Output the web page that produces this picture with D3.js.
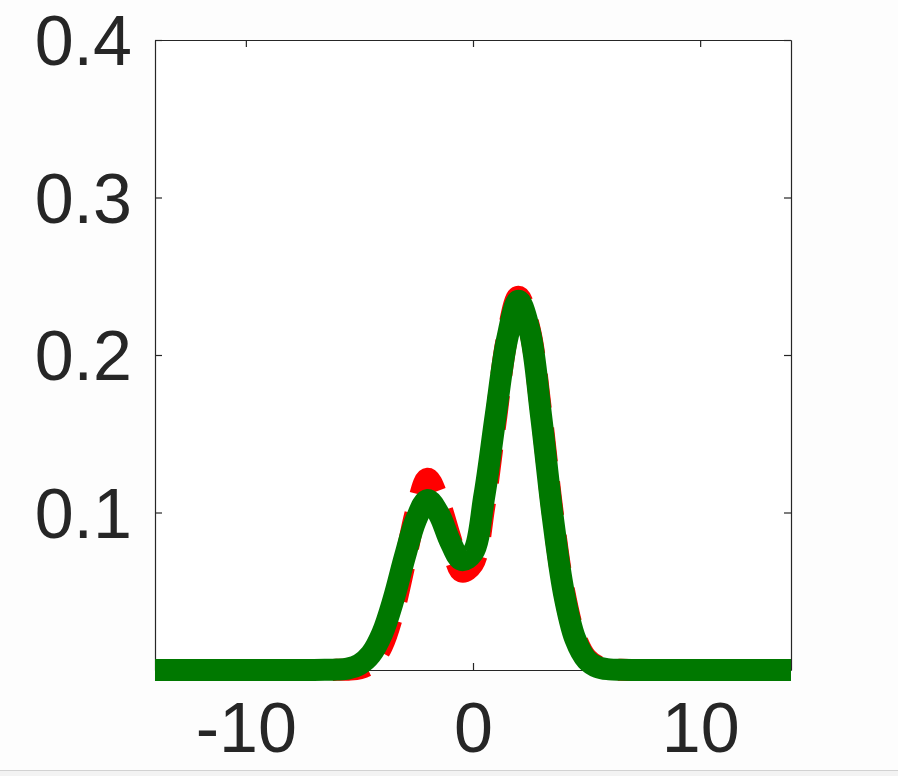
<!DOCTYPE html>
<html>
<head>
<meta charset="utf-8">
<script src="https://cdn.jsdelivr.net/npm/d3@7"></script>
<style>
  html, body { margin: 0; padding: 0; background: #fdfdfd; }
  svg { display: block; }
  text { font-family: "Liberation Sans", Arial, Helvetica, sans-serif; }
</style>
</head>
<body>
<script>
// ---- data ----
const xValues = [-14, -7, -6.5, -6, -5.5, -5, -4.5, -4, -3.5, -3, -2.5, -2, -1.5, -1, -0.5, 0,
                 0.5, 1, 1.5, 2, 2.5, 3, 3.5, 4, 4.5, 5, 5.5, 6, 6.5, 7, 14];
const redDashed = [0, 0, 0, 0.0001, 0.0002, 0.0010, 0.0045, 0.0155, 0.0370, 0.0680, 0.1010, 0.1215,
                   0.1070, 0.0840, 0.0625, 0.0675, 0.1040, 0.1580, 0.2110, 0.2370, 0.2160, 0.1640,
                   0.1010, 0.0510, 0.0215, 0.0075, 0.0022, 0.0005, 0.0001, 0, 0];
const greenSolid = [0, 0, 0.0001, 0.0003, 0.0010, 0.0035, 0.0099, 0.0231, 0.0448, 0.0719, 0.0957, 0.1080,
                    0.0990, 0.0815, 0.0698, 0.0745, 0.1107, 0.1617, 0.2099, 0.2345, 0.2150, 0.1610,
                    0.0985, 0.0490, 0.0198, 0.0065, 0.0017, 0.0004, 0.0001, 0, 0];
const xDomain = [-14, 14];
const yDomain = [0, 0.4];
const xTicks = [-10, 0, 10];
const yTicks = [0.1, 0.2, 0.3, 0.4];

// ---- layout ----
const W = 898, H = 776;
const mLeft = 155, mRight = 791, mTop = 40, mBottom = 670;
const axisColor = "#262626";

const svg = d3.select("body").append("svg").attr("width", W).attr("height", H);
svg.append("rect").attr("width", W).attr("height", H).attr("fill", "#fdfdfd");
svg.append("rect").attr("x", 0).attr("y", 770).attr("width", W).attr("height", 6).attr("fill", "#f3f3f3");
svg.append("line").attr("x1", 0).attr("x2", W).attr("y1", 770.5).attr("y2", 770.5)
   .attr("stroke", "#d2d2d2").attr("stroke-width", 1);

const x = d3.scaleLinear().domain(xDomain).range([mLeft, mRight]);
const y = d3.scaleLinear().domain(yDomain).range([mBottom, mTop]);

// white plot area
svg.append("rect").attr("x", mLeft).attr("y", mTop).attr("width", mRight - mLeft).attr("height", mBottom - mTop)
   .attr("fill", "#ffffff");

// axes (MATLAB style: box, ticks inward on all sides)
const tickLen = 7;
const fmt = d => String(d);
const gB = svg.append("g").attr("transform", `translate(0,${mBottom})`)
  .call(d3.axisBottom(x).tickValues(xTicks).tickSizeInner(-tickLen).tickSizeOuter(0).tickPadding(32).tickFormat(fmt));
const gT = svg.append("g").attr("transform", `translate(0,${mTop})`)
  .call(d3.axisTop(x).tickValues(xTicks).tickSizeInner(-tickLen).tickSizeOuter(0).tickFormat(""));
const gL = svg.append("g").attr("transform", `translate(${mLeft},0)`)
  .call(d3.axisLeft(y).tickValues(yTicks).tickSizeInner(-tickLen).tickSizeOuter(0).tickPadding(23).tickFormat(fmt));
const gR = svg.append("g").attr("transform", `translate(${mRight},0)`)
  .call(d3.axisRight(y).tickValues(yTicks).tickSizeInner(-tickLen).tickSizeOuter(0).tickFormat(""));

[gB, gT, gL, gR].forEach(g => {
  g.select(".domain").attr("stroke", axisColor).attr("stroke-width", 1.2);
  g.selectAll(".tick line").attr("stroke", axisColor).attr("stroke-width", 1.2);
  g.selectAll(".tick text").attr("fill", "#262626").attr("font-size", 70)
    .attr("font-family", "'Liberation Sans', Arial, Helvetica, sans-serif");
});
gB.selectAll(".tick text").attr("dy", "0.71em");
gL.selectAll(".tick text").attr("dy", "0.35em");

// curves
const pts = (ys) => xValues.map((xv, i) => [xv, ys[i]]);
const line = d3.line().x(d => x(d[0])).y(d => y(d[1])).curve(d3.curveCatmullRom.alpha(0.5));

const dashLen = 34, gapLen = 20, period = dashLen + gapLen;
const red = svg.append("path").datum(pts(redDashed))
  .attr("d", line).attr("fill", "none").attr("stroke", "#ff0000")
  .attr("stroke-width", 22).attr("stroke-dasharray", `${dashLen},${gapLen}`)
  .attr("stroke-linejoin", "round").attr("stroke-linecap", "butt");

// phase the dash pattern so that a dash sits on the small peak (as in the reference)
const node = red.node();
const total = node.getTotalLength();
function lenAtX(px) {
  let lo = 0, hi = total;
  for (let i = 0; i < 50; i++) { const m = (lo + hi) / 2; if (node.getPointAtLength(m).x < px) lo = m; else hi = m; }
  return lo;
}
const L1 = lenAtX(x(-2.05));
red.attr("stroke-dashoffset", (((dashLen / 2 - L1) % period) + period) % period);

svg.append("path").datum(pts(greenSolid))
  .attr("d", line).attr("fill", "none").attr("stroke", "#007800")
  .attr("stroke-width", 22).attr("stroke-linejoin", "round").attr("stroke-linecap", "butt");
</script>
</body>
</html>
